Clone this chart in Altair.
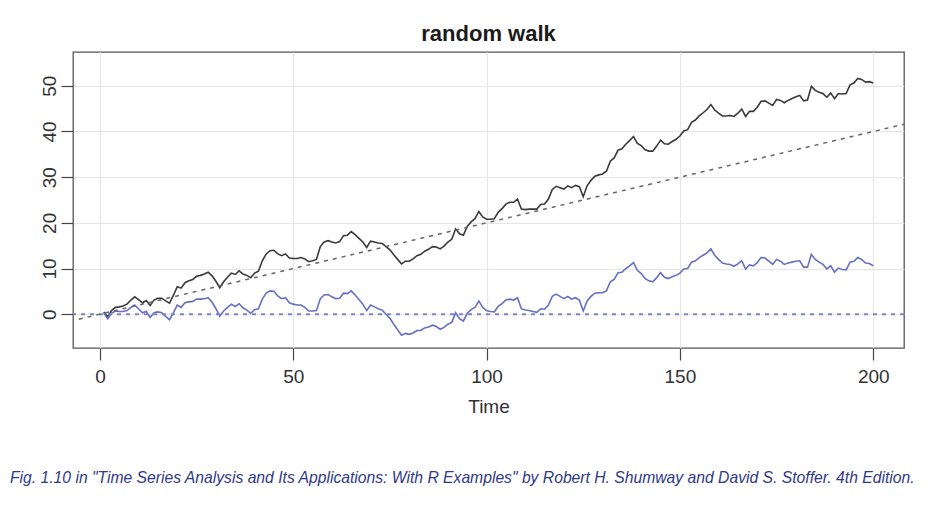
import altair as alt
import pandas as pd

# Time index
time = list(range(1, 201))

# Random walk without drift (blue)
walk = [0.3, -1.0, 0.2, 0.7, 0.6, 0.6, 0.8, 1.5, 2.0, 1.2,
        0.3, 0.6, -0.7, 0.3, 0.5, 0.3, -0.5, -1.2, 0.3, 2.0,
        1.5, 2.5, 2.7, 2.8, 3.3, 3.3, 3.4, 3.6, 2.6, 1.2,
        -0.4, 0.7, 1.5, 2.2, 1.7, 2.3, 1.4, 0.9, 0.2, 1.0,
        1.2, 3.3, 4.6, 5.1, 5.0, 4.0, 3.4, 3.6, 2.5, 2.2,
        2.0, 2.0, 1.5, 0.7, 0.7, 0.8, 3.4, 4.2, 4.3, 3.8,
        3.4, 3.5, 4.6, 4.5, 5.1, 4.2, 3.2, 2.2, 0.8, 2.0,
        1.6, 1.2, 0.9, 0.0, -0.9, -2.2, -3.4, -4.6, -4.2, -4.4,
        -4.1, -3.6, -3.5, -3.0, -2.8, -2.4, -2.7, -3.3, -2.9, -2.2,
        -1.8, 0.3, -1.0, -1.5, 0.2, 1.0, 1.5, 2.9, 1.5, 0.8,
        0.6, 0.5, 1.7, 2.3, 3.1, 3.3, 3.1, 3.6, 1.2, 0.9,
        0.8, 0.6, 0.4, 1.2, 1.1, 2.0, 3.9, 4.4, 3.9, 3.4,
        3.9, 3.3, 3.6, 3.1, 0.7, 2.9, 3.9, 4.6, 4.7, 4.7,
        5.1, 7.1, 7.6, 9.1, 9.2, 10.0, 10.6, 11.3, 9.6, 8.9,
        7.8, 7.3, 7.1, 8.0, 9.1, 8.1, 7.8, 8.2, 8.5, 9.0,
        9.9, 10.0, 11.4, 11.7, 12.4, 12.9, 13.4, 14.3, 12.9, 12.0,
        11.2, 11.0, 10.9, 10.5, 11.0, 11.7, 9.9, 10.8, 10.6, 11.3,
        12.4, 12.3, 11.6, 10.9, 12.0, 11.6, 10.9, 11.2, 11.4, 11.6,
        11.7, 10.3, 10.3, 13.1, 12.0, 11.4, 10.9, 9.9, 10.6, 9.2,
        10.1, 9.8, 9.7, 11.4, 11.6, 12.4, 12.0, 11.2, 11.1, 10.6]

# Random walk with drift (black)
walk_drift = [0.5, -0.6, 0.8, 1.5, 1.6, 1.8, 2.2, 3.1, 3.8, 3.2,
              2.5, 3.0, 1.9, 3.1, 3.5, 3.5, 2.9, 2.4, 4.1, 6.0,
              5.7, 6.9, 7.3, 7.6, 8.3, 8.5, 8.8, 9.2, 8.4, 7.2,
              5.8, 7.1, 8.1, 9.0, 8.7, 9.5, 8.8, 8.5, 8.0, 9.0,
              9.4, 11.7, 13.2, 13.9, 14.0, 13.2, 12.8, 13.2, 12.3, 12.2,
              12.2, 12.4, 12.1, 11.5, 11.7, 12.0, 14.8, 15.8, 16.1, 15.8,
              15.6, 15.9, 17.2, 17.3, 18.1, 17.4, 16.6, 15.8, 14.6, 16.0,
              15.8, 15.6, 15.5, 14.8, 14.1, 13.0, 12.0, 11.0, 11.6, 11.6,
              12.1, 12.8, 13.1, 13.8, 14.2, 14.8, 14.7, 14.3, 14.9, 15.8,
              16.4, 18.7, 17.6, 17.3, 19.2, 20.2, 20.9, 22.5, 21.3, 20.8,
              20.8, 20.9, 22.3, 23.1, 24.1, 24.5, 24.5, 25.2, 23.0, 22.9,
              23.0, 23.0, 23.0, 24.0, 24.1, 25.2, 27.3, 28.0, 27.7, 27.4,
              28.1, 27.7, 28.2, 27.9, 25.7, 28.1, 29.3, 30.2, 30.5, 30.7,
              31.3, 33.5, 34.2, 35.9, 36.2, 37.2, 38.0, 38.9, 37.4, 36.9,
              36.0, 35.7, 35.7, 36.8, 38.1, 37.3, 37.2, 37.8, 38.3, 39.0,
              40.1, 40.4, 42.0, 42.5, 43.4, 44.1, 44.8, 45.9, 44.7, 44.0,
              43.4, 43.4, 43.5, 43.3, 44.0, 44.9, 43.3, 44.4, 44.4, 45.3,
              46.6, 46.7, 46.2, 45.7, 47.0, 46.8, 46.3, 46.8, 47.2, 47.6,
              47.9, 46.7, 46.9, 49.9, 49.0, 48.6, 48.3, 47.5, 48.4, 47.2,
              48.3, 48.2, 48.3, 50.2, 50.6, 51.6, 51.4, 50.8, 50.9, 50.6]

# Reference lines: drift line (slope .2) and zero line
drift_x = [-10, 210]
drift_y = [-2.0, 42.0]
zero_y = [0]

x_ticks = [0, 50, 100, 150, 200]
y_ticks = [0, 10, 20, 30, 40, 50]
x_domain = [-6.96, 207.96]
y_domain = [-7.4, 57.4]

title_text = "random walk"
x_title = "Time"
caption = ('Fig. 1.10 in "Time Series Analysis and Its Applications: With R Examples" '
           'by Robert H. Shumway and David S. Stoffer. 4th Edition.')

FONT = "Liberation Sans"

df = pd.DataFrame({"Time": time, "walk": walk, "drift": walk_drift})
drift_df = pd.DataFrame({"Time": drift_x, "value": drift_y})
zero_df = pd.DataFrame({"value": zero_y})

xs = alt.Scale(domain=x_domain, nice=False, zero=False)
ys = alt.Scale(domain=y_domain, nice=False, zero=False)

x_axis = alt.Axis(values=x_ticks, title=x_title, labelPadding=7, titlePadding=11)
y_axis = alt.Axis(values=y_ticks, title=None, labelAngle=270, labelAlign="center",
                  labelBaseline="alphabetic", labelPadding=6)

black = alt.Chart(df).mark_line(color="#3a3a3a", strokeWidth=1.6).encode(
    x=alt.X("Time:Q", scale=xs, axis=x_axis),
    y=alt.Y("drift:Q", scale=ys, axis=y_axis),
)
blue = alt.Chart(df).mark_line(color="#6670c2", strokeWidth=1.6).encode(
    x=alt.X("Time:Q", scale=xs),
    y=alt.Y("walk:Q", scale=ys),
)
zero = alt.Chart(zero_df).mark_rule(color="#7c84cc", strokeWidth=2, strokeDash=[4, 5]).encode(
    y=alt.Y("value:Q", scale=ys),
)
drift = alt.Chart(drift_df).mark_line(color="#666666", strokeWidth=1.5, strokeDash=[4, 5], clip=True).encode(
    x=alt.X("Time:Q", scale=xs),
    y=alt.Y("value:Q", scale=ys),
)
cap = alt.Chart(pd.DataFrame({"t": [caption]})).mark_text(
    align="left", baseline="middle", fontStyle="italic",
    font=FONT, fontSize=15.7, color="#2f3a86",
).encode(text="t:N", x=alt.value(-63), y=alt.value(426))

chart = alt.layer(black, blue, zero, drift, cap).properties(
    width=831, height=296,
    title=alt.Title(title_text, font=FONT, fontSize=22, fontWeight="bold", color="#1a1a1a",
                    anchor="middle", offset=6),
    autosize=alt.AutoSizeParams(type="none"),
    padding={"left": 65, "top": 44, "right": 30, "bottom": 150},
    background="white",
).configure_view(
    stroke="#555555", strokeWidth=1.3
).configure_axis(
    grid=True, gridColor="#e6e6e6", gridWidth=1.2, domain=False,
    tickColor="#444444", tickSize=12, tickWidth=1.2,
    labelFont=FONT, labelFontSize=19, labelColor="#333333",
    titleFont=FONT, titleFontSize=19, titleFontWeight="normal", titleColor="#333333",
)

chart.save("out.html", embed_options={"renderer": "svg", "actions": False})
